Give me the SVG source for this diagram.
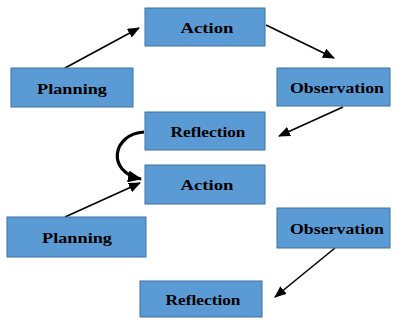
<svg xmlns="http://www.w3.org/2000/svg" width="396" height="322" viewBox="0 0 396 322">
<style>
.box{fill:#5B9BD5;stroke:#41719C;stroke-width:1}
.lbl{font-family:"Liberation Serif","Times New Roman",serif;font-weight:bold;font-size:15px;fill:#000;text-anchor:middle;dominant-baseline:central}
.con{stroke:#000;stroke-width:1.6;fill:none}
</style>
<defs>
<marker id="ah" markerWidth="12" markerHeight="10" refX="11" refY="5" orient="auto" markerUnits="userSpaceOnUse">
<path d="M0,0 L12,5 L0,10 Z" fill="#000"/>
</marker>
<marker id="ah2" markerWidth="14" markerHeight="12" refX="13" refY="6" orient="auto" markerUnits="userSpaceOnUse">
<path d="M0,0 L14,6 L0,12 Z" fill="#000"/>
</marker>
</defs>
<rect width="396" height="322" fill="#fff"/>
<g id="connectors">
<line class="con" x1="65" y1="68" x2="139" y2="28" marker-end="url(#ah)"/>
<line class="con" x1="266" y1="25" x2="334" y2="58" marker-end="url(#ah)"/>
<line class="con" x1="343" y1="107" x2="279" y2="136" marker-end="url(#ah)"/>
<path class="con" style="stroke-width:3.2" d="M144,132 C112,134 106,172 141,179" marker-end="url(#ah2)"/>
<line class="con" x1="65" y1="217" x2="140" y2="183" marker-end="url(#ah)"/>
<line class="con" x1="335" y1="248" x2="275" y2="297" marker-end="url(#ah)"/>
</g>
<g id="planning1"><rect class="box" x="11" y="68" width="122" height="39"/><text class="lbl" x="72" y="89" textLength="70" lengthAdjust="spacingAndGlyphs">Planning</text></g>
<g id="action1"><rect class="box" x="145" y="8" width="120" height="38"/><text class="lbl" x="207" y="28" textLength="53" lengthAdjust="spacingAndGlyphs">Action</text></g>
<g id="observation1"><rect class="box" x="277" y="68" width="113" height="38"/><text class="lbl" x="337" y="88" textLength="94" lengthAdjust="spacingAndGlyphs">Observation</text></g>
<g id="reflection1"><rect class="box" x="145" y="112" width="120" height="38"/><text class="lbl" x="208" y="132" textLength="75" lengthAdjust="spacingAndGlyphs">Reflection</text></g>
<g id="action2"><rect class="box" x="145" y="165" width="120" height="39"/><text class="lbl" x="207" y="185" textLength="53" lengthAdjust="spacingAndGlyphs">Action</text></g>
<g id="planning2"><rect class="box" x="7" y="217" width="139" height="40"/><text class="lbl" x="77" y="238" textLength="70" lengthAdjust="spacingAndGlyphs">Planning</text></g>
<g id="observation2"><rect class="box" x="277" y="208" width="113" height="40"/><text class="lbl" x="337" y="229" textLength="94" lengthAdjust="spacingAndGlyphs">Observation</text></g>
<g id="reflection2"><rect class="box" x="140" y="281" width="122" height="36"/><text class="lbl" x="203" y="300" textLength="75" lengthAdjust="spacingAndGlyphs">Reflection</text></g>
</svg>
